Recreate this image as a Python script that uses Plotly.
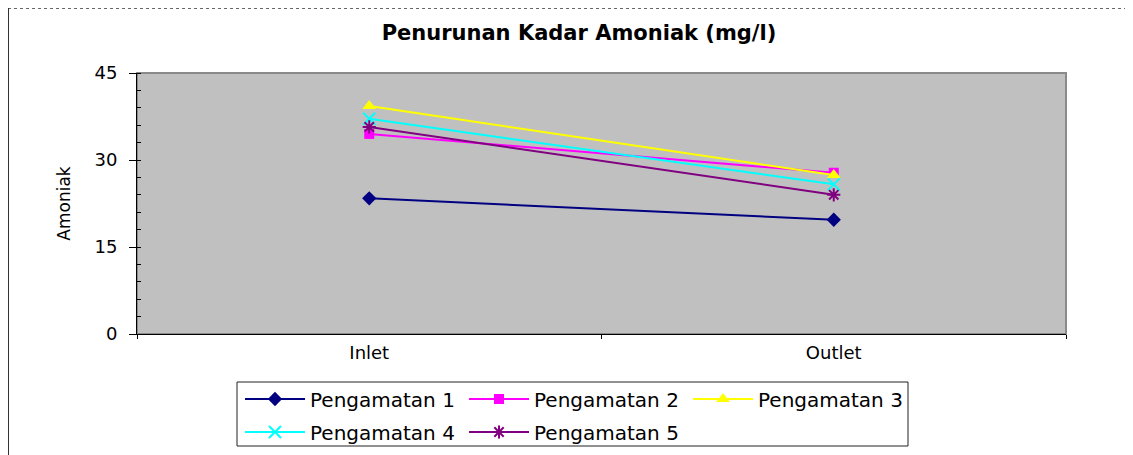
import plotly.graph_objects as go

categories = ["Inlet", "Outlet"]
series_names = ["Pengamatan 1", "Pengamatan 2", "Pengamatan 3", "Pengamatan 4", "Pengamatan 5"]
p1 = [23.4, 19.7]
p2 = [34.5, 27.8]
p3 = [39.3, 27.4]
p4 = [37.1, 25.8]
p5 = [35.7, 24.0]
values = [p1, p2, p3, p4, p5]

colors = ["#000080", "#FF00FF", "#FFFF00", "#00FFFF", "#800080"]
symbols = ["diamond", "square", "triangle-up", "x-thin", "asterisk"]
sizes = [11, 10, 12, 12, 11]
legends = ["legend", "legend", "legend", "legend2", "legend2"]

FONT = "DejaVu Sans"

fig = go.Figure()
for name, vals, col, sym, sz, lg in zip(series_names, values, colors, symbols, sizes, legends):
    open_sym = sym in ("x-thin", "asterisk")
    fig.add_trace(go.Scatter(
        x=categories, y=vals, name=name, mode="lines+markers",
        line=dict(color=col, width=2),
        marker=dict(symbol=sym, size=sz, color=col,
                    line=dict(color=col, width=2 if open_sym else 0)),
        legend=lg,
    ))

OFF = 8  # page body margin
W, H = 1133, 455
FW, FH = W - OFF, H - OFF
L, R, T, B = 137, 1066, 73, 334
pw, ph = R - L, B - T

def px(x):
    return (x - L) / pw

def py(y):
    return (B - y) / ph

def cx(x):
    return (x - OFF) / FW

def cy(y):
    return 1 - (y - OFF) / FH

legend_common = dict(orientation="h", xref="container", yref="container", xanchor="left",
                     yanchor="middle", entrywidth=149, entrywidthmode="pixels",
                     bgcolor="rgba(0,0,0,0)", borderwidth=0,
                     font=dict(family=FONT, size=20), itemwidth=60)

fig.update_layout(
    width=FW, height=FH,
    margin=dict(l=L - OFF, r=W - R, t=T - OFF, b=H - B, autoexpand=False),
    paper_bgcolor="white", plot_bgcolor="#C0C0C0",
    font=dict(family=FONT, size=18, color="black"),
    title=dict(text="<b>Penurunan Kadar Amoniak (mg/l)</b>", x=cx(579), xanchor="center",
               y=cy(33), yanchor="middle", font=dict(family=FONT, size=21, color="black")),
    showlegend=True,
    legend=dict(x=cx(240), y=cy(399), **legend_common),
    legend2=dict(x=cx(240), y=cy(432), **legend_common),
    xaxis=dict(type="category", range=[-0.5, 1.5], tickson="boundaries", ticks="outside",
               ticklen=4, tickcolor="black", showgrid=False, zeroline=False,
               showline=True, linecolor="black", linewidth=1,
               tickfont=dict(family=FONT, size=18, color="black"), ticklabelstandoff=2),
    yaxis=dict(range=[0, 45], tickvals=[0, 15, 30, 45], ticks="outside", ticklen=7,
               tickcolor="black", showgrid=False, zeroline=False,
               showline=True, linecolor="black", linewidth=1,
               minor=dict(dtick=3, ticks="inside", ticklen=4, tickcolor="black", showgrid=False),
               tickfont=dict(family=FONT, size=18, color="black"), ticklabelstandoff=8,
               title=dict(text="Amoniak", font=dict(family=FONT, size=17, color="black"), standoff=19)),
)

# plot area frame (gray)
fig.add_shape(type="rect", xref="paper", yref="paper", x0=0, x1=1, y0=0, y1=1,
              line=dict(color="#8A8A8A", width=2), layer="below")
# legend frame
fig.add_shape(type="rect", xref="paper", yref="paper", x0=px(237), x1=px(908),
              y0=py(446), y1=py(382), line=dict(color="#222222", width=1))
# outer chart frame (top and left edges visible)
fig.add_shape(type="line", xref="paper", yref="paper", x0=px(8), x1=px(1133),
              y0=py(8.5), y1=py(8.5), line=dict(color="#666666", width=1, dash="dot"))
fig.add_shape(type="line", xref="paper", yref="paper", x0=px(8.5), x1=px(8.5),
              y0=py(8), y1=py(455), line=dict(color="#333333", width=1))

fig.write_html("out.html")
